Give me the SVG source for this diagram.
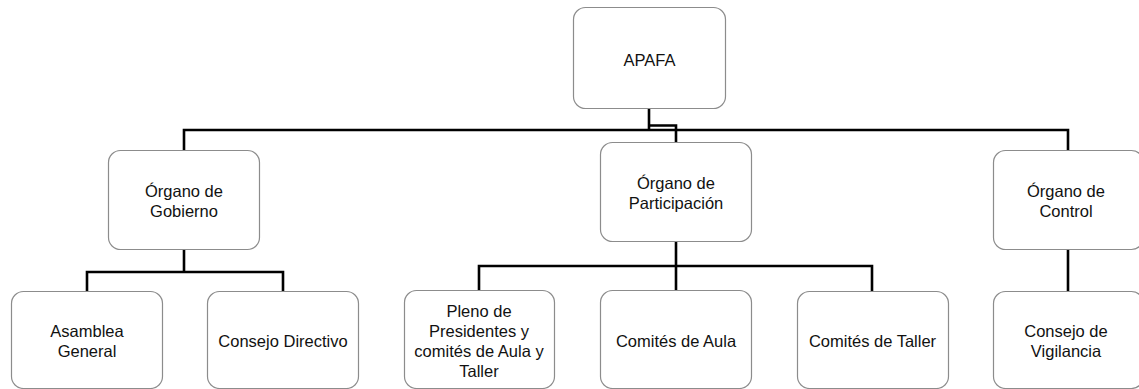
<svg xmlns="http://www.w3.org/2000/svg" width="1139" height="389" viewBox="0 0 1139 389">
<style>
.box{fill:#ffffff;stroke:#8c8c8c;stroke-width:1.2}
.t{font-family:"Liberation Sans",Arial,sans-serif;font-size:16.5px;fill:#111;text-anchor:middle}
.c{fill:none;stroke:#000;stroke-width:2.6;stroke-linejoin:miter}
</style>
<rect width="1139" height="389" fill="#ffffff"/>
<g id="connectors">
<path class="c" d="M649,109 V130"/>
<path class="c" d="M184,150 V130 H1068 V150"/>
<path class="c" d="M649,125.5 H676 V142"/>
<path class="c" d="M184,250 V272"/>
<path class="c" d="M87,291 V272 H283 V291"/>
<path class="c" d="M676,241 V290"/>
<path class="c" d="M479,290 V266 H872 V291"/>
<path class="c" d="M1068,250 V291"/>
</g>
<g id="apafa"><rect class="box" x="573.5" y="7.5" width="152" height="101" rx="12"/><text class="t" x="649.5" y="66">APAFA</text></g>
<g id="gobierno"><rect class="box" x="108.5" y="150.5" width="151" height="99" rx="12"/><text class="t" x="184" y="197">Órgano de</text><text class="t" x="184" y="217">Gobierno</text></g>
<g id="participacion"><rect class="box" x="600.5" y="142.5" width="151" height="99" rx="12"/><text class="t" x="676" y="189">Órgano de</text><text class="t" x="676" y="209">Participación</text></g>
<g id="control"><rect class="box" x="993.5" y="150.5" width="150" height="99" rx="12"/><text class="t" x="1066" y="197">Órgano de</text><text class="t" x="1066" y="217">Control</text></g>
<g id="asamblea"><rect class="box" x="11.5" y="291.5" width="151" height="97" rx="12"/><text class="t" x="87" y="337">Asamblea</text><text class="t" x="87" y="357">General</text></g>
<g id="directivo"><rect class="box" x="207.5" y="291.5" width="151" height="97" rx="12"/><text class="t" x="283" y="347">Consejo Directivo</text></g>
<g id="pleno"><rect class="box" x="404.5" y="290.5" width="150" height="98" rx="12"/><text class="t" x="479" y="317">Pleno de</text><text class="t" x="479" y="337">Presidentes y</text><text class="t" x="479" y="357">comités de Aula y</text><text class="t" x="479" y="377">Taller</text></g>
<g id="aula"><rect class="box" x="600.5" y="290.5" width="151" height="98" rx="12"/><text class="t" x="676" y="347">Comités de Aula</text></g>
<g id="taller"><rect class="box" x="797.5" y="291.5" width="151" height="97" rx="12"/><text class="t" x="872.5" y="347">Comités de Taller</text></g>
<g id="vigilancia"><rect class="box" x="993.5" y="291.5" width="150" height="97" rx="12"/><text class="t" x="1066" y="337">Consejo de</text><text class="t" x="1066" y="357">Vigilancia</text></g>
</svg>
